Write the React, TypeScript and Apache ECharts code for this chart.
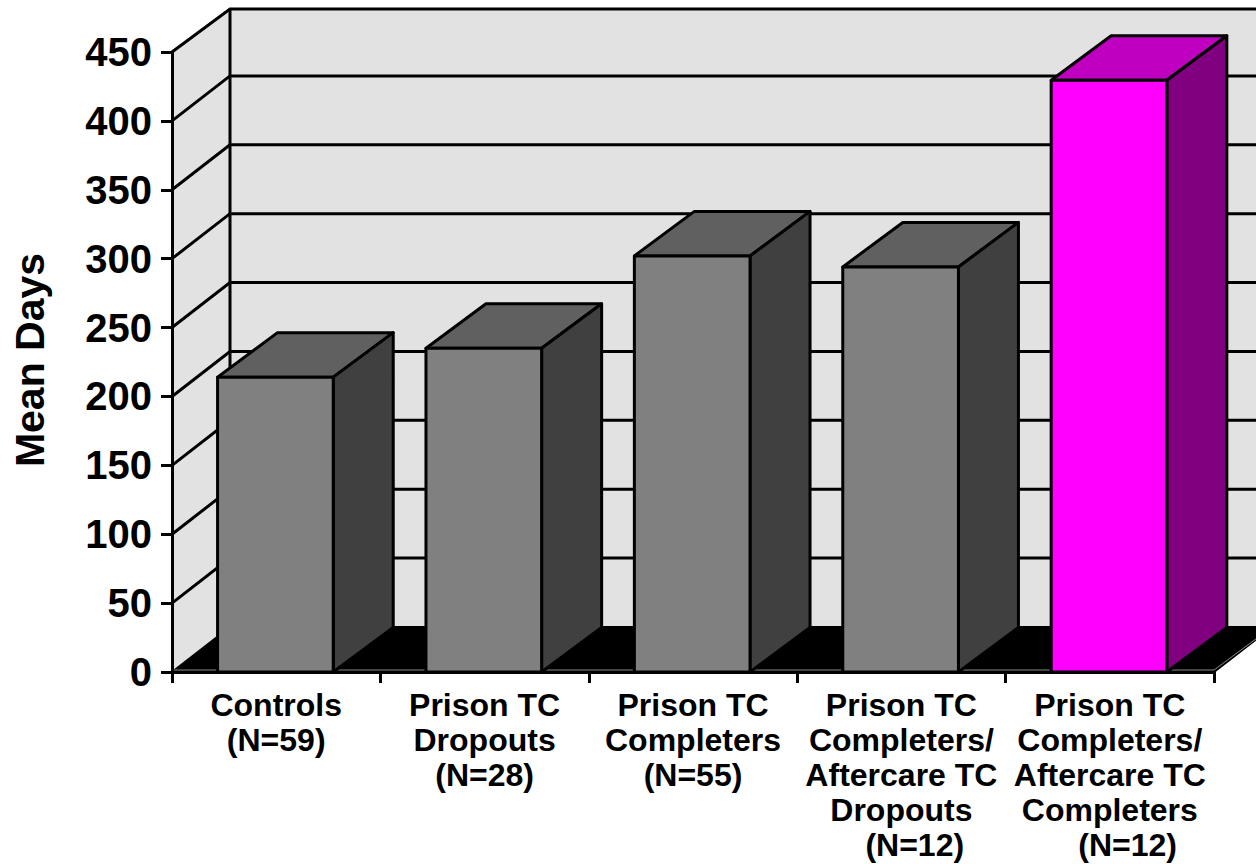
import React, { useEffect, useRef } from "react";
import * as echarts from "echarts";

const categories = [
  "Controls\n(N=59)",
  "Prison TC\nDropouts\n(N=28)",
  "Prison TC\nCompleters\n(N=55)",
  "Prison TC\nCompleters/\nAftercare TC\nDropouts\n\u00a0\u00a0\u00a0(N=12)",
  "Prison TC\nCompleters/\nAftercare TC\nCompleters\n\u00a0\u00a0\u00a0\u00a0(N=12)",
];
const meanDays = [214, 235, 302, 294, 429.5];
const yTicks = [0, 50, 100, 150, 200, 250, 300, 350, 400, 450];
const highlightedIndex = 4;

const DX = 58;
const DY = -45;
const TOP_DY = -43;
const BAR_DX = 60;
const BAR_DY = -44.5;
const LINE = 3;
const FONT = "'Liberation Sans', Arial, sans-serif";

const greyFaces = { front: "#808080", top: "#606060", side: "#404040" };
const pinkFaces = { front: "#ff00ff", top: "#c000c0", side: "#800080" };
const wallColor = "#e2e2e2";

function poly(points: number[][], fill: string, z2: number) {
  return {
    type: "polygon",
    z2,
    shape: { points },
    style: { fill, stroke: "#000", lineWidth: LINE, lineJoin: "round" },
  };
}

function renderBackdrop(params: any, api: any) {
  const cs = params.coordSys;
  const left = cs.x;
  const right = cs.x + cs.width;
  const y0 = api.coord([0, 0])[1];
  const yTop = api.coord([0, 450])[1];
  const children: any[] = [
    {
      type: "polygon",
      shape: { points: [[left, y0], [left + DX, y0 + DY], [right + DX, y0 + DY], [right + DX, yTop + TOP_DY], [left + DX, yTop + TOP_DY], [left, yTop]] },
      style: { fill: wallColor },
      z2: 0,
    },
    {
      type: "polygon",
      shape: { points: [[left, y0], [left + DX, y0 + DY], [right + DX, y0 + DY], [right, y0]] },
      style: { fill: "#000", stroke: "#000", lineWidth: 2 },
      z2: 1,
    },
    {
      type: "polyline",
      shape: { points: [[left, y0 - 2], [right, y0 - 2], [right + DX, y0 + DY]] },
      style: { stroke: "#8a8a8a", lineWidth: 1, fill: "none" },
      z2: 2,
    },
    {
      type: "line",
      shape: { x1: left + DX, y1: yTop + TOP_DY, x2: left + DX, y2: y0 + DY },
      style: { stroke: "#000", lineWidth: LINE },
      z2: 2,
    },
    {
      type: "polyline",
      z2: 2,
      shape: { points: [[left, yTop], [left + DX, yTop + TOP_DY], [right + DX, yTop + TOP_DY]] },
      style: { stroke: "#000", lineWidth: LINE, fill: "none" },
    },
  ];
  yTicks.forEach((t) => {
    if (t === 0 || t === 450) return;
    const y = api.coord([0, t])[1];
    children.push({
      type: "polyline",
      z2: 2,
      shape: { points: [[left, y], [left + DX, y + DY], [right + DX, y + DY]] },
      style: { stroke: "#000", lineWidth: LINE, fill: "none" },
    });
  });
  return { type: "group", children };
}

function renderBar(params: any, api: any) {
  const idx = api.value(0);
  const val = api.value(1);
  const top = api.coord([idx, val]);
  const base = api.coord([idx, 0]);
  const w = api.size([1, 0])[0] * 0.555;
  const xl = top[0] - w / 2 - 0.8;
  const xr = xl + w;
  const faces = idx === highlightedIndex ? pinkFaces : greyFaces;
  return {
    type: "group",
    children: [
      poly([[xl, top[1]], [xl + BAR_DX, top[1] + BAR_DY], [xr + BAR_DX, top[1] + BAR_DY], [xr, top[1]]], faces.top, 3),
      poly([[xr, top[1]], [xr + BAR_DX, top[1] + BAR_DY], [xr + BAR_DX, base[1] + BAR_DY], [xr, base[1]]], faces.side, 3),
      poly([[xl, top[1]], [xr, top[1]], [xr, base[1]], [xl, base[1]]], faces.front, 4),
    ],
  };
}

export default function App() {
  const ref = useRef<HTMLDivElement>(null);
  useEffect(() => {
    document.body.style.margin = "0";
    const chart = echarts.init(ref.current!, undefined, { renderer: "svg" });
    chart.setOption({
      animation: false,
      backgroundColor: "#ffffff",
      grid: { left: 172, top: 52, width: 1042, height: 620 },
      xAxis: {
        type: "category",
        data: categories,
        axisLine: { show: true, lineStyle: { color: "#000", width: LINE } },
        axisTick: { show: true, length: 11, lineStyle: { color: "#000", width: LINE } },
        axisLabel: {
          interval: 0,
          color: "#000",
          fontFamily: FONT,
          fontWeight: "bold",
          fontSize: 32,
          lineHeight: 35,
          margin: 15,
          align: "center",
          verticalAlign: "top",
        },
        z: 5,
      },
      yAxis: {
        type: "value",
        min: 0,
        max: 450,
        interval: 50,
        name: "Mean Days",
        nameLocation: "middle",
        nameGap: 122,
        nameRotate: 90,
        nameTextStyle: { color: "#000", fontFamily: FONT, fontWeight: "bold", fontSize: 41, padding: [0, 0, 0, 4] },
        splitLine: { show: false },
        axisLine: { show: true, lineStyle: { color: "#000", width: LINE } },
        axisTick: { show: true, length: 11, lineStyle: { color: "#000", width: LINE } },
        axisLabel: { color: "#000", fontFamily: FONT, fontWeight: "bold", fontSize: 40, margin: 20 },
        z: 5,
      },
      series: [
        {
          type: "custom",
          name: "backdrop",
          renderItem: renderBackdrop,
          data: [[0, 0]],
          encode: { x: 0, y: 1 },
          silent: true,
          z: 1,
        },
        {
          type: "custom",
          name: "Mean Days",
          renderItem: renderBar,
          data: meanDays.map((v, i) => [i, v]),
          encode: { x: 0, y: 1 },
          z: 10,
        },
      ],
    });
    return () => chart.dispose();
  }, []);
  return <div ref={ref} style={{ position: "fixed", left: 0, top: 0, width: 1256, height: 864 }} />;
}
